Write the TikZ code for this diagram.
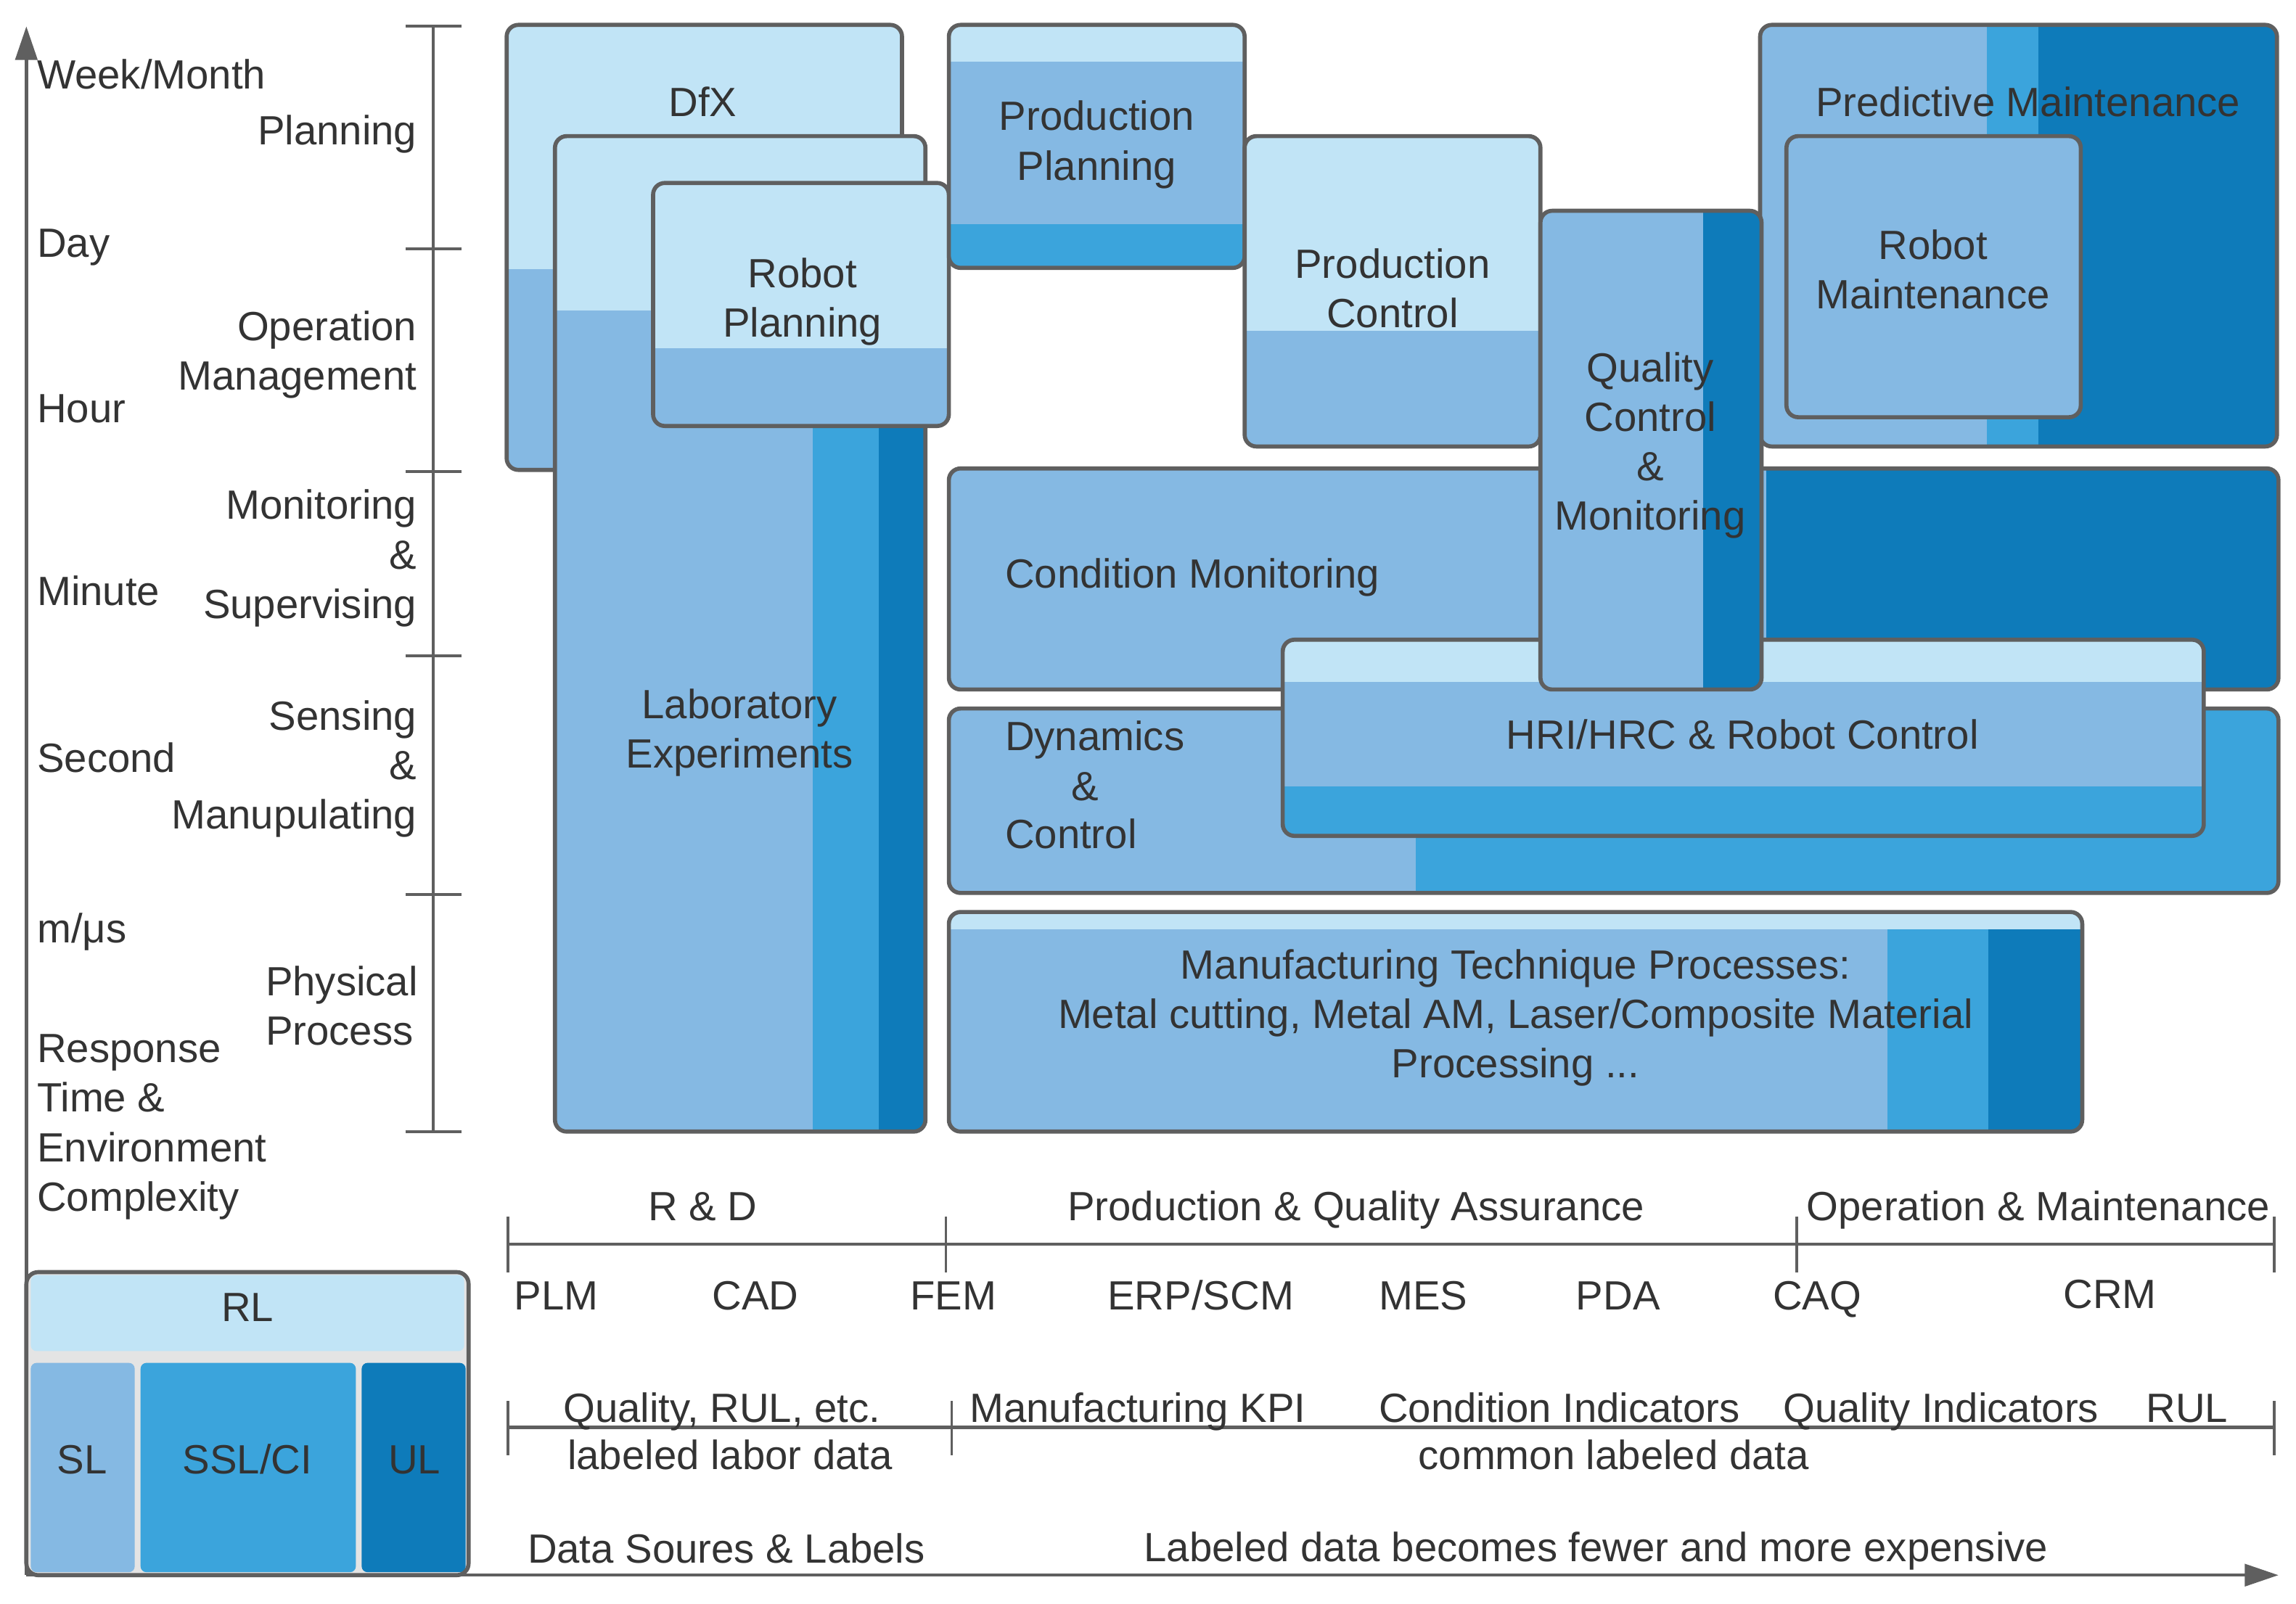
\documentclass[tikz,border=0pt]{standalone}
\usepackage{fontspec}
\setmainfont{Liberation Sans}
\usetikzlibrary{arrows.meta}
\definecolor{cL}{HTML}{C1E4F6}
\definecolor{cM}{HTML}{85B9E3}
\definecolor{cB}{HTML}{3BA4DC}
\definecolor{cD}{HTML}{0E7BBA}
\definecolor{cE}{HTML}{5F5F5F}
\definecolor{cT}{HTML}{333333}
\definecolor{cG}{HTML}{E4E4E4}
\newcommand\bandbox[3]{%
  \begin{scope}\clip[rounded corners=4pt] #1 rectangle #2; #3\end{scope}%
  \draw[boxline] #1 rectangle #2;}
\begin{document}
\begin{tikzpicture}[x=0.5pt,y=-0.5pt,
  lbl/.style={font=\fontsize{13.95}{16.9}\selectfont, text=cT, inner sep=0pt, align=center,
     execute at begin node=\strut, execute at end node=\strut},
  lblw/.style={lbl, anchor=west, align=left},
  lble/.style={lbl, anchor=east, align=right},
  boxline/.style={draw=cE, line width=1.4pt, rounded corners=4pt},
  axis/.style={draw=cE, line width=1.1pt},
  tick/.style={draw=cE, line width=0.9pt},
  tip/.style={-{Triangle[length=11.5pt,width=7.5pt]}},
]
\useasboundingbox (0,0) rectangle (1568,1095.7);

% ---------- axes ----------
\coordinate (o) at (18,1076);
\coordinate (ytop) at (18,18);
\coordinate (xend) at (1556,1076);
\draw[axis,tip] (o) -- (ytop);
\draw[axis,tip] (o) -- (xend);

% ---------- time-scale bracket ----------
\coordinate (bt) at (296,18);
\coordinate (bb) at (296,773);
\draw[tick] (bt) -- (bb);
\foreach \y in {18,170,322,448,611,773} \draw[tick] (277,\y) -- (315,\y);

% ---------- left labels ----------
\node[lblw] (wm)   at (25,54)  {Week/Month};
\node[lblw] (day)  at (25,169) {Day};
\node[lblw] (hour) at (25,282) {Hour};
\node[lblw] (minu) at (25,407) {Minute};
\node[lblw] (sec)  at (25,521) {Second};
\node[lblw] (mus)  at (25,637) {m/μs};
\node[lblw] (resp) at (25,772) {Response\\Time \&\\Environment\\Complexity};

\node[lble] (plan) at (285,92)    {Planning};
\node[lble] (opm)  at (285,244.5) {Operation\\Management};
\node[lble] (mon)  at (285,383.5) {Monitoring\\\&\\Supervising};
\node[lble] (sens) at (285,527.5) {Sensing\\\&\\Manupulating};
\node[lblw] (phys) at (181,692)   {Physical\\Process};

% ---------- boxes ----------
% DfX
\bandbox{(346,17)}{(616,321)}{%
  \fill[cM] (346,17) rectangle (616,321);
  \fill[cL] (346,17) rectangle (616,184);}
\node[lbl] (dfx) at (480,73) {DfX};

% Laboratory Experiments
\bandbox{(379,93)}{(632,773)}{%
  \fill[cM] (379,93) rectangle (632,773);
  \fill[cB] (555,212) rectangle (632,773);
  \fill[cD] (600,212) rectangle (632,773);
  \fill[cL] (379,93) rectangle (632,212);}
\node[lbl] (lab) at (505,502.5) {Laboratory\\Experiments};

% Robot Planning
\bandbox{(446,125)}{(648,291)}{%
  \fill[cM] (446,125) rectangle (648,291);
  \fill[cL] (446,125) rectangle (648,238);}
\node[lbl] (rp) at (548,208.5) {Robot\\Planning};

% Production Planning
\bandbox{(648,17)}{(850,183)}{%
  \fill[cB] (648,17) rectangle (850,183);
  \fill[cM] (648,17) rectangle (850,153);
  \fill[cL] (648,17) rectangle (850,42);}
\node[lbl] (pp) at (749,101) {Production\\Planning};

% Production Control
\bandbox{(850,93)}{(1052,305)}{%
  \fill[cM] (850,93) rectangle (1052,305);
  \fill[cL] (850,93) rectangle (1052,226);}
\node[lbl] (pc) at (951,202) {Production\\Control};

% Predictive Maintenance
\bandbox{(1202,17)}{(1555,305)}{%
  \fill[cM] (1202,17) rectangle (1555,305);
  \fill[cB] (1357,17) rectangle (1555,305);
  \fill[cD] (1392,17) rectangle (1555,305);}
\node[lbl] (pm) at (1385,73) {Predictive Maintenance};

% Robot Maintenance
\bandbox{(1220,93)}{(1421,285)}{%
  \fill[cM] (1220,93) rectangle (1421,285);}
\node[lbl] (rm) at (1320,189) {Robot\\Maintenance};

% Condition Monitoring
\bandbox{(648,320)}{(1556,471)}{%
  \fill[cM] (648,320) rectangle (1556,471);
  \fill[cD] (1206,320) rectangle (1556,471);}
\node[lblw] (cm) at (686,395) {Condition Monitoring};

% Dynamics & Control
\bandbox{(648,484)}{(1556,610)}{%
  \fill[cM] (648,484) rectangle (1556,610);
  \fill[cB] (967,484) rectangle (1556,610);}
\node[lblw] (dyn1) at (686,506) {Dynamics};
\node[lbl]  (dyn2) at (741,540) {\&};
\node[lblw] (dyn3) at (686,573) {Control};

% HRI/HRC & Robot Control
\bandbox{(876,437)}{(1505,571)}{%
  \fill[cB] (876,437) rectangle (1505,571);
  \fill[cM] (876,437) rectangle (1505,537);
  \fill[cL] (876,437) rectangle (1505,466);}
\node[lbl] (hri) at (1190,505) {HRI/HRC \& Robot Control};

% Quality Control & Monitoring
\bandbox{(1052,144)}{(1203,471)}{%
  \fill[cM] (1052,144) rectangle (1203,471);
  \fill[cD] (1163,144) rectangle (1203,471);}
\node[lbl] (qcm) at (1127,306.5) {Quality\\Control\\\&\\Monitoring};

% Manufacturing Technique Processes
\bandbox{(648,623)}{(1422,773)}{%
  \fill[cM] (648,623) rectangle (1422,773);
  \fill[cB] (1289,623) rectangle (1422,773);
  \fill[cD] (1358,623) rectangle (1422,773);
  \fill[cL] (648,623) rectangle (1422,635);}
\node[lbl] (mtp) at (1035,697.5) {Manufacturing Technique Processes:\\Metal cutting, Metal AM, Laser/Composite Material\\Processing ...};

% ---------- timeline 1 ----------
\coordinate (t1a) at (347,850);
\coordinate (t1b) at (1553,850);
\draw[axis] (t1a) -- (t1b);
\foreach \x in {347,646,1227,1553} \draw[tick] (\x,831) -- (\x,869);
\node[lbl] (rd)  at (480,827)  {R \& D};
\node[lbl] (pqa) at (926,827)  {Production \& Quality Assurance};
\node[lbl] (om)  at (1392,827) {Operation \& Maintenance};
\node[lbl] (plm) at (380,888)  {PLM};
\node[lbl] (cad) at (516,888)  {CAD};
\node[lbl] (fem) at (651,888)  {FEM};
\node[lbl] (erp) at (820,888)  {ERP/SCM};
\node[lbl] (mes) at (972,888)  {MES};
\node[lbl] (pda) at (1105,888) {PDA};
\node[lbl] (caq) at (1241,888) {CAQ};
\node[lbl] (crm) at (1441,887) {CRM};

% ---------- timeline 2 ----------
\coordinate (t2a) at (347,975);
\coordinate (t2b) at (1553,975);
\draw[axis] (t2a) -- (t2b);
\foreach \x in {347,650,1553} \draw[tick] (\x,957) -- (\x,994);
\node[lbl] (qre) at (493,965)    {Quality, RUL, etc.};
\node[lbl] (kpi) at (777,965)    {Manufacturing KPI};
\node[lbl] (ci)  at (1065,965)   {Condition Indicators};
\node[lbl] (qi)  at (1325.5,965) {Quality Indicators};
\node[lbl] (rul) at (1493.5,965) {RUL};
\node[lbl] (lld) at (498.5,997)  {labeled labor data};
\node[lbl] (cld) at (1102,997)   {common labeled data};

\node[lbl] (dsl) at (496,1061)  {Data Soures \& Labels};
\node[lbl] (ldf) at (1090,1060) {Labeled data becomes fewer and more expensive};

% ---------- RL legend ----------
\fill[cG, rounded corners=4pt] (18,869) rectangle (320,1076);
\fill[cL, rounded corners=2pt] (21,871) rectangle (317,923);
\fill[cM, rounded corners=2pt] (21,931) rectangle (92,1074);
\fill[cB, rounded corners=2pt] (96,931) rectangle (243,1074);
\fill[cD, rounded corners=2pt] (247,931) rectangle (318,1074);
\draw[boxline] (18,869) rectangle (320,1076);
\node[lbl] (rl)  at (169,896)  {RL};
\node[lbl] (sl)  at (56,1000)  {SL};
\node[lbl] (ssl) at (169,1000) {SSL/CI};
\node[lbl] (ul)  at (283,1000) {UL};
\end{tikzpicture}
\end{document}
